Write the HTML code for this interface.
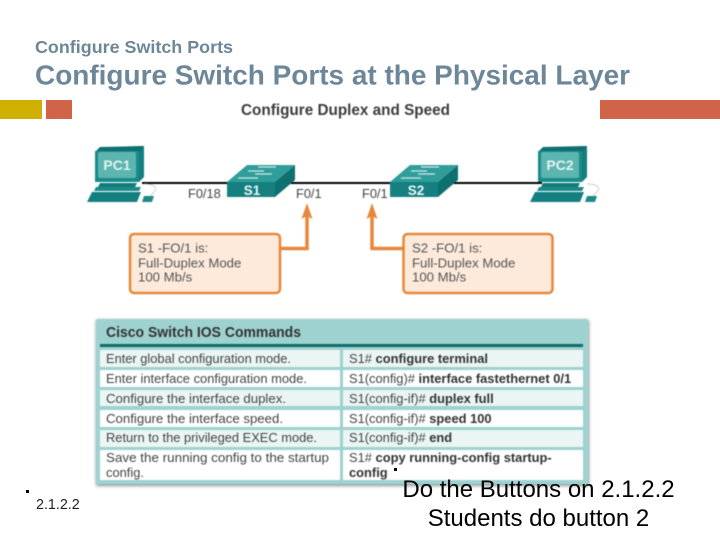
<!DOCTYPE html>
<html><head><meta charset="utf-8"><style>
html,body{margin:0;padding:0;background:#fff}
svg{display:block;font-family:"Liberation Sans",sans-serif}
.d{filter:blur(.45px)}
</style></head><body>
<svg width="720" height="540" viewBox="0 0 720 540" xmlns="http://www.w3.org/2000/svg">
<defs>
<filter id="sh" x="-5%" y="-5%" width="110%" height="110%"><feGaussianBlur stdDeviation="1.5"/></filter>
<g id="pc">
<polygon points="95,152 100,148 144,146 144,177 139,182 95,182" fill="#137f7f"/>
<polygon points="95,152 100,147 144,146 139,152" fill="#0f7070"/>
<rect x="95" y="151" width="44" height="31" fill="#1b8b8a"/>
<rect x="98" y="152" width="38" height="26" rx="2" fill="#5db5b0"/>
<polygon points="100,183 137,183 135,187 98,187" fill="#137a7a"/>
<polygon points="96,187 141,187 139,191 94,191" fill="#1b8b8a"/>
<polygon points="92,192 141,192 137,202 87,202" fill="#137f7f"/>
<polygon points="144,196 154,196 152,202 142,202" fill="#1b8b8a"/>
<path d="M144,184 C155,184 158,188 154,192 L150,196" fill="none" stroke="#bbb" stroke-width=".7"/>
</g>
<g id="sw">
<polygon points="227,182 247,165 295,165 275,182" fill="#2f9e9a"/>
<polygon points="275,182 295,165 295,180 275,197" fill="#0f7070"/>
<rect x="227" y="182" width="48" height="15" fill="#15807f"/>
<g stroke="#cfe9e6" stroke-width="1.2">
<line x1="258" y1="167" x2="276" y2="167"/>
<line x1="248" y1="171" x2="264" y2="171"/>
<line x1="255" y1="174" x2="272" y2="174"/>
<line x1="238" y1="178" x2="258" y2="178"/>
</g>
</g>
</defs>

<text x="35" y="53" font-size="17.500" font-weight="bold" fill="#6d8799" textLength="198" lengthAdjust="spacingAndGlyphs">Configure Switch Ports</text>
<text x="35" y="84.500" font-size="28" font-weight="bold" fill="#6d8799" textLength="595" lengthAdjust="spacingAndGlyphs">Configure Switch Ports at the Physical Layer</text>

<rect x="0" y="100" width="42" height="19" fill="#cfb000"/>
<rect x="46" y="100" width="26" height="19" fill="#cf6449"/>
<rect x="600" y="100" width="120" height="19" fill="#cf6449"/>

<g class="d">
<text x="241" y="115" font-size="15.500" font-weight="bold" fill="#3c3c3c" textLength="209" lengthAdjust="spacingAndGlyphs">Configure Duplex and Speed</text>

<line x1="142" y1="183" x2="542" y2="183" stroke="#000" stroke-width="2"/>
<use href="#pc"/>
<use href="#pc" x="443"/>
<use href="#sw"/>
<use href="#sw" x="163"/>
<text x="117" y="170" font-size="14" font-weight="bold" fill="#e2f2f0" text-anchor="middle">PC1</text>
<text x="560" y="170" font-size="14" font-weight="bold" fill="#e2f2f0" text-anchor="middle">PC2</text>
<text x="252" y="195" font-size="13.500" font-weight="bold" fill="#eef8f7" text-anchor="middle">S1</text>
<text x="416" y="195" font-size="13.500" font-weight="bold" fill="#eef8f7" text-anchor="middle">S2</text>
<text x="188" y="198" font-size="12.800" fill="#444">F0/18</text>
<text x="296" y="198" font-size="12.800" fill="#444">F0/1</text>
<text x="362" y="198" font-size="12.800" fill="#444">F0/1</text>

<path d="M281,248.500H307V214" fill="none" stroke="#e8873a" stroke-width="3.500"/>
<polygon points="307,203 312.500,219 307,216 301.500,219" fill="#e8873a"/>
<path d="M403,248.500H372V214" fill="none" stroke="#e8873a" stroke-width="3.500"/>
<polygon points="372,203 377.500,219 372,216 366.500,219" fill="#e8873a"/>
<rect x="130" y="234" width="150" height="59" rx="4" fill="#fdeadb" stroke="#e8873a" stroke-width="2.500"/>
<rect x="403.500" y="234" width="149" height="59" rx="4" fill="#fdeadb" stroke="#e8873a" stroke-width="2.500"/>
<g font-size="13.200" fill="#555">
<text x="138" y="252.500">S1 -FO/1 is:</text>
<text x="138" y="267.500">Full-Duplex Mode</text>
<text x="138" y="281.500">100 Mb/s</text>
<text x="412" y="252.500">S2 -FO/1 is:</text>
<text x="412" y="267.500">Full-Duplex Mode</text>
<text x="412" y="281.500">100 Mb/s</text>
</g>

<rect x="96" y="320" width="493" height="166" rx="2" fill="#8a9a9a" filter="url(#sh)"/>
<rect x="96" y="319" width="492" height="165" rx="2" fill="#9dd2d0"/>
<rect x="100" y="344" width="483" height="3" fill="#0f6a68"/>
<g fill="#eaf5f4">
<rect x="100" y="350" width="240" height="17"/><rect x="343" y="350" width="240" height="17"/>
<rect x="100" y="390" width="240" height="16"/><rect x="343" y="390" width="240" height="16"/>
<rect x="100" y="430" width="240" height="17"/><rect x="343" y="430" width="240" height="17"/>
</g>
<g fill="#fff">
<rect x="100" y="370" width="240" height="17"/><rect x="343" y="370" width="240" height="17"/>
<rect x="100" y="410" width="240" height="17"/><rect x="343" y="410" width="240" height="17"/>
<rect x="100" y="450" width="240" height="30"/><rect x="343" y="450" width="240" height="30"/>
</g>
<text x="106" y="337" font-size="15" font-weight="bold" fill="#333" textLength="195" lengthAdjust="spacingAndGlyphs">Cisco Switch IOS Commands</text>
<g font-size="12.900" fill="#444">
<text x="106" y="363" textLength="185" lengthAdjust="spacingAndGlyphs">Enter global configuration mode.</text>
<text x="106" y="383" textLength="201" lengthAdjust="spacingAndGlyphs">Enter interface configuration mode.</text>
<text x="106" y="403" textLength="180" lengthAdjust="spacingAndGlyphs">Configure the interface duplex.</text>
<text x="106" y="423" textLength="177" lengthAdjust="spacingAndGlyphs">Configure the interface speed.</text>
<text x="106" y="442" textLength="211" lengthAdjust="spacingAndGlyphs">Return to the privileged EXEC mode.</text>
<text x="106" y="462" textLength="223" lengthAdjust="spacingAndGlyphs">Save the running config to the startup</text>
<text x="106" y="477">config.</text>
<text x="349" y="363">S1# <tspan font-weight="bold" fill="#333">configure terminal</tspan></text>
<text x="349" y="383">S1(config)# <tspan font-weight="bold" fill="#333">interface fastethernet 0/1</tspan></text>
<text x="349" y="403">S1(config-if)# <tspan font-weight="bold" fill="#333">duplex full</tspan></text>
<text x="349" y="423">S1(config-if)# <tspan font-weight="bold" fill="#333">speed 100</tspan></text>
<text x="349" y="442">S1(config-if)# <tspan font-weight="bold" fill="#333">end</tspan></text>
<text x="349" y="462">S1# <tspan font-weight="bold" fill="#333">copy running-config startup-</tspan></text>
<text x="349" y="477" font-weight="bold" fill="#333">config</text>
</g>
</g>

<rect x="26" y="490" width="3" height="3" fill="#000"/>
<rect x="394" y="468" width="3" height="3" fill="#000"/>
<text x="36" y="509" font-size="14.300" fill="#222">2.1.2.2</text>
<text x="538.500" y="497" font-size="24" fill="#000" text-anchor="middle">Do the Buttons on 2.1.2.2</text>
<text x="538.500" y="526" font-size="24" fill="#000" text-anchor="middle">Students do button 2</text>
</svg>
</body></html>
